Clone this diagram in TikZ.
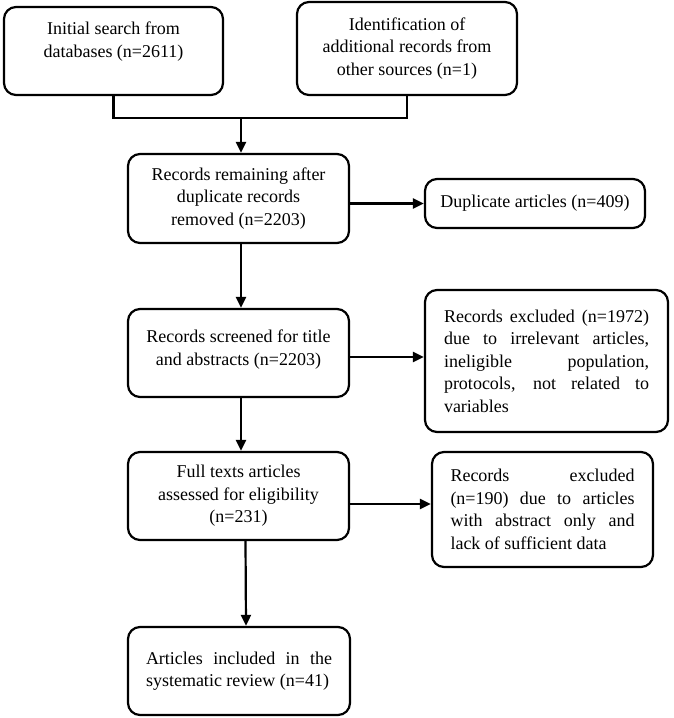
\documentclass[tikz,border=0pt]{standalone}
\usepackage{fontspec}
\setmainfont{Liberation Serif}
\usetikzlibrary{arrows.meta}
\newcommand{\jline}[2]{\makebox[#1][s]{#2}}

\begin{document}
\begin{tikzpicture}[x=1pt, y=-1pt,
        box/.style={draw, line width=2.2pt, rounded corners=12pt, inner sep=0pt,
            align=center, font=\fontsize{18}{22.5}\selectfont},
        flow/.style={line width=2.2pt, -{Triangle[length=11pt, width=10pt]}}]
    \useasboundingbox (0,0) rectangle (674,718);

    \coordinate (merge) at (241,118);

    \node[box, minimum width=219pt, minimum height=88pt] (search) at (113.5,51)
        {Initial search from\\databases (n=2611)\\~};
    \node[box, minimum width=220pt, minimum height=93pt] (other) at (407,48.5)
        {Identification of\\additional records from\\other sources (n=1)};
    \node[box, minimum width=221pt, minimum height=89pt] (remain) at (238.5,198.5)
        {Records remaining after\\duplicate records\\removed (n=2203)};
    \node[box, minimum width=220pt, minimum height=49pt] (dup) at (535,203.5)
        {Duplicate articles (n=409)};
    \node[box, minimum width=221pt, minimum height=88pt] (screen) at (238.5,353)
        {Records screened for title\\and abstracts (n=2203)\\[-12pt]~};
    \node[box, align=left, minimum width=243pt, minimum height=142pt] (excl) at (546.5,361)
        {\jline{205pt}{Records excluded (n=1972)}\\
         \jline{205pt}{due to irrelevant articles,}\\
         \jline{205pt}{ineligible population,}\\
         \jline{205pt}{protocols, not related to}\\
         variables};
    \node[box, minimum width=221pt, minimum height=88pt] (full) at (238.5,496)
        {Full texts articles\\assessed for eligibility\\(n=231)};
    \node[box, align=left, minimum width=221pt, minimum height=115pt] (excl2) at (542.5,509.5)
        {\jline{184pt}{Records excluded}\\
         \jline{184pt}{(n=190) due to articles}\\
         \jline{184pt}{with abstract only and}\\
         lack of sufficient data};
    \node[box, align=left, minimum width=222pt, minimum height=88pt] (incl) at (239,671)
        {\jline{186pt}{Articles included in the}\\
         systematic review (n=41)};

    \draw[line width=2.2pt] (search.south) |- (merge) -| (other.south);
    \draw[flow] (merge) -- (merge |- remain.north);
    \draw[flow] (remain.east |- dup.west) -- (dup.west);
    \draw[flow] (remain.south -| merge) -- (merge |- screen.north);
    \draw[flow] ([yshift=-4pt]screen.east) -- ([yshift=-4pt]screen.east -| excl.west);
    \draw[flow] (screen.south -| merge) -- (merge |- full.north);
    \draw[flow] ([yshift=-8pt]full.east) -- ([yshift=-8pt]full.east -| excl2.west);
    \draw[flow] ([xshift=7pt]full.south) -- ([xshift=7pt]incl.north);
\end{tikzpicture}
\end{document}
